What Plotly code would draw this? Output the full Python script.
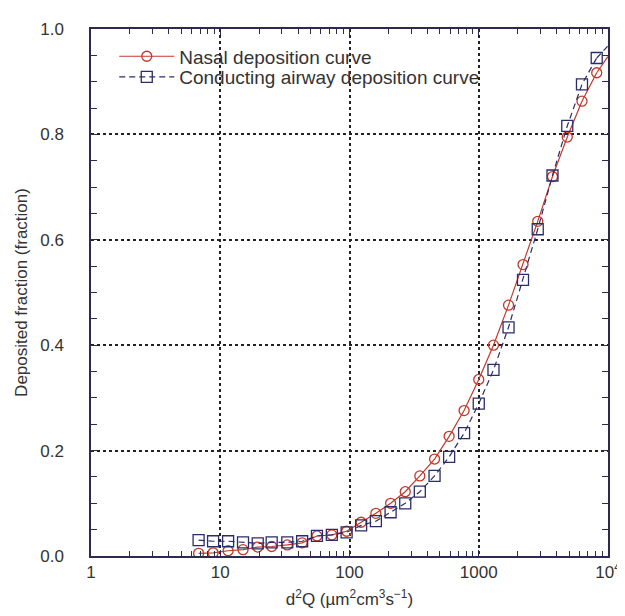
import plotly.graph_objects as go

x_vals = [6.8, 8.8, 11.5, 15, 19.5, 25, 33, 43, 56, 73, 95, 123, 160, 208, 270,
          350, 455, 590, 770, 1000, 1300, 1700, 2200, 2860, 3720, 4840, 6290, 8180]
nasal = [0.005, 0.006, 0.010, 0.012, 0.017, 0.018, 0.021, 0.025, 0.038, 0.040,
         0.047, 0.064, 0.081, 0.100, 0.122, 0.152, 0.184, 0.227, 0.276, 0.335,
         0.400, 0.476, 0.553, 0.635, 0.720, 0.795, 0.863, 0.917]
airway = [0.030, 0.028, 0.028, 0.026, 0.024, 0.026, 0.026, 0.028, 0.038, 0.040,
          0.045, 0.058, 0.066, 0.083, 0.100, 0.122, 0.152, 0.188, 0.233, 0.289,
          0.353, 0.434, 0.524, 0.620, 0.722, 0.816, 0.895, 0.945]
# curve continuation to the right edge (no markers)
x_end = [8180, 10000]
nasal_end = [0.917, 0.948]
airway_end = [0.945, 0.968]

x_tickvals = [1, 10, 100, 1000, 10000]
x_ticktext = ["1", "10", "100", "1000", "10<sup>4</sup>"]
y_tickvals = [0.0, 0.2, 0.4, 0.6, 0.8, 1.0]
y_ticktext = ["0.0", "0.2", "0.4", "0.6", "0.8", "1.0"]
x_minor = [m * d for d in [1, 10, 100, 1000] for m in range(2, 10)]

RED = "#c0392b"
NAVY = "#2b2c6a"
AX = "#2e2a4f"
TXT = "#333333"

fig = go.Figure()
fig.add_trace(go.Scatter(
    x=x_vals, y=nasal, mode="lines+markers", name="Nasal deposition curve",
    line=dict(color=RED, width=1.2), legend="legend",
    marker=dict(symbol="circle-open", size=10, color=RED, line=dict(width=1.3)),
))
fig.add_trace(go.Scatter(
    x=x_vals, y=airway, mode="lines+markers", name="Conducting airway deposition curve",
    line=dict(color=NAVY, width=1.2, dash="6px,4px"), legend="legend2",
    marker=dict(symbol="square-open", size=11, color=NAVY, line=dict(width=1.3)),
))
fig.add_trace(go.Scatter(x=x_end, y=nasal_end, mode="lines", showlegend=False,
                         line=dict(color=RED, width=1.2)))
fig.add_trace(go.Scatter(x=x_end, y=airway_end, mode="lines", showlegend=False,
                         line=dict(color=NAVY, width=1.2, dash="6px,4px")))

leg_common = dict(xanchor="left", yanchor="middle", bgcolor="rgba(0,0,0,0)",
                  font=dict(size=19, color=TXT), itemwidth=55,
                  borderwidth=0)

fig.update_layout(
    width=625, height=616,
    margin=dict(l=83, r=13, t=16, b=68),
    paper_bgcolor="white", plot_bgcolor="white",
    font=dict(family="Liberation Sans, Arial, sans-serif", size=17, color=TXT),
    showlegend=True,
    legend=dict(x=0.045, y=0.948, **leg_common),
    legend2=dict(x=0.045, y=0.909, **leg_common),
    xaxis=dict(
        type="log", range=[0, 4],
        tickmode="array", tickvals=x_tickvals, ticktext=x_ticktext,
        ticks="inside", ticklen=6, tickcolor=AX,
        showline=True, linecolor=AX, linewidth=1.5, mirror="ticks",
        showgrid=True, gridcolor="#222222", griddash="dot", gridwidth=1.5,
        zeroline=False,
        minor=dict(tickmode="array", tickvals=x_minor, ticks="inside", ticklen=5,
                   tickcolor=AX, showgrid=False),
        title=dict(text="d<sup>2</sup>Q (µm<sup>2</sup>cm<sup>3</sup>s<sup>−1</sup>)",
                   standoff=12, font=dict(size=17)),
        tickfont=dict(size=17),
        ticklabelstandoff=0,
    ),
    yaxis=dict(
        range=[0, 1],
        tickmode="array", tickvals=y_tickvals, ticktext=y_ticktext,
        ticks="inside", ticklen=6, tickcolor=AX,
        showline=True, linecolor=AX, linewidth=1.5, mirror="ticks",
        showgrid=True, gridcolor="#222222", griddash="dot", gridwidth=1.5,
        zeroline=False,
        minor=dict(dtick=0.05, ticks="inside", ticklen=6, tickcolor=AX, showgrid=False),
        title=dict(text="Deposited fraction (fraction)", standoff=8, font=dict(size=17)),
        tickfont=dict(size=17),
        ticklabelstandoff=22,
    ),
)

fig.write_html("out.html")
